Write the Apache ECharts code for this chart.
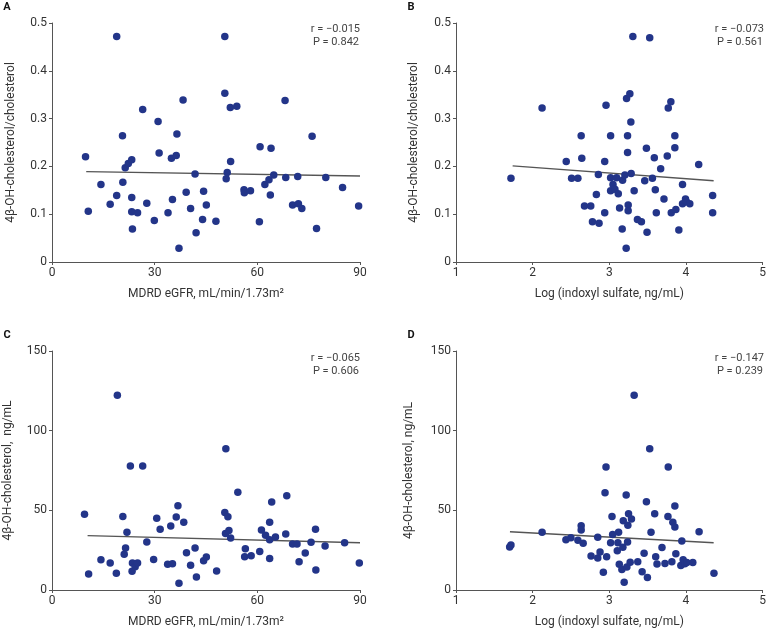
<!DOCTYPE html>
<html>
<head>
<meta charset="utf-8">
<script src="https://cdn.jsdelivr.net/npm/echarts@6/dist/echarts.min.js"></script>
<style>html,body{margin:0;padding:0;background:#fff;}#c{width:769px;height:635px;}</style>
</head>
<body>
<div id="c"></div>
<script>
// Panel A: eGFR vs 4β-OH-cholesterol/cholesterol
const aX = [9.8,10.6,14.3,17.0,18.9,18.9,20.6,20.7,21.4,22.3,23.3,23.3,23.3,23.5,25.0,26.5,27.7,29.9,31.0,31.3,33.9,34.9,35.2,36.3,36.5,37.1,38.3,39.2,40.5,41.8,42.1,44.0,44.3,45.1,47.9,50.5,50.5,50.9,51.2,52.1,52.2,54.0,56.1,56.2,58.0,60.6,60.8,62.2,63.4,63.8,64.0,64.8,68.1,68.3,70.3,71.8,72.0,73.0,76.0,77.3,80.0,84.9,89.6];
const aY = [0.220,0.106,0.162,0.121,0.472,0.139,0.264,0.167,0.197,0.206,0.214,0.135,0.105,0.069,0.103,0.319,0.123,0.087,0.294,0.228,0.103,0.217,0.131,0.223,0.268,0.029,0.339,0.146,0.112,0.184,0.061,0.089,0.148,0.119,0.085,0.472,0.353,0.174,0.187,0.323,0.210,0.326,0.151,0.145,0.149,0.084,0.241,0.162,0.172,0.140,0.238,0.182,0.338,0.177,0.119,0.179,0.122,0.112,0.263,0.070,0.177,0.156,0.117];
const aFit = [[10,0.189],[90,0.180]];

// Panel B: log indoxyl sulfate vs 4β-OH-cholesterol/cholesterol
const bX = [1.717,2.123,2.438,2.508,2.590,2.633,2.641,2.676,2.758,2.780,2.831,2.857,2.866,2.940,2.940,2.957,3.017,3.017,3.017,3.048,3.073,3.095,3.117,3.134,3.173,3.168,3.203,3.220,3.225,3.238,3.238,3.246,3.246,3.268,3.281,3.285,3.307,3.324,3.367,3.419,3.462,3.484,3.492,3.527,3.562,3.587,3.600,3.613,3.670,3.713,3.756,3.769,3.803,3.808,3.855,3.855,3.868,3.907,3.955,3.955,3.994,4.006,4.050,4.166,4.348,4.348];
const bY = [0.175,0.322,0.210,0.175,0.175,0.264,0.217,0.117,0.117,0.084,0.141,0.183,0.081,0.210,0.103,0.328,0.264,0.176,0.149,0.162,0.152,0.176,0.143,0.113,0.171,0.069,0.182,0.029,0.342,0.264,0.229,0.119,0.107,0.352,0.293,0.185,0.472,0.149,0.089,0.084,0.170,0.238,0.062,0.469,0.175,0.218,0.151,0.103,0.195,0.132,0.222,0.322,0.335,0.103,0.264,0.239,0.110,0.067,0.162,0.122,0.132,0.126,0.122,0.204,0.139,0.103];
const bFit = [[1.739,0.201],[4.361,0.170]];

// Panel C: eGFR vs 4β-OH-cholesterol
const cX = [9.5,10.7,14.3,17.0,18.8,19.1,20.7,21.1,21.5,21.9,22.9,23.4,23.5,24.3,25.0,26.5,27.7,29.7,30.6,31.6,33.8,34.7,35.2,36.3,36.8,37.1,38.5,39.3,40.5,41.8,42.2,44.3,45.1,48.1,50.5,50.8,50.7,51.4,51.7,52.2,54.3,56.5,56.3,58.2,60.7,61.2,62.4,63.6,63.6,63.6,64.2,65.3,68.3,68.6,70.3,71.6,72.2,74.0,75.7,77.0,77.1,79.8,85.5,89.8];
const cY = [47.5,10.0,19.0,16.9,10.5,122.2,46.2,22.4,26.4,36.2,77.8,11.7,16.9,14.6,16.9,77.8,30.1,19.2,45.0,38.1,16.1,40.2,16.5,45.8,52.9,4.2,42.5,23.4,15.5,26.4,8.2,18.4,20.7,11.9,48.7,88.7,35.4,46.0,37.4,32.6,61.3,25.9,20.9,21.5,24.1,37.7,34.3,42.5,31.6,19.7,55.2,33.3,35.1,59.2,28.9,28.9,17.8,23.2,29.9,38.1,12.6,27.6,29.7,16.9];
const cFit = [[10.4,34.1],[90,29.7]];

// Panel D: log indoxyl sulfate vs 4β-OH-cholesterol
const dX = [1.700,1.717,2.123,2.434,2.499,2.590,2.633,2.633,2.659,2.762,2.849,2.849,2.879,2.922,2.944,2.957,2.965,3.017,3.035,3.043,3.104,3.112,3.121,3.130,3.164,3.177,3.182,3.194,3.220,3.229,3.238,3.242,3.251,3.272,3.289,3.324,3.371,3.428,3.454,3.484,3.497,3.527,3.544,3.592,3.605,3.622,3.687,3.726,3.765,3.769,3.816,3.829,3.855,3.855,3.868,3.933,3.946,3.963,3.985,4.011,4.089,4.171,4.365];
const dY = [27.0,28.2,36.2,31.6,32.8,31.2,40.4,37.7,29.3,21.3,33.1,20.1,23.8,11.1,61.1,77.2,20.9,29.7,46.2,34.9,24.7,29.7,36.2,16.1,12.8,26.8,43.5,4.8,59.6,14.4,30.1,40.6,47.9,17.4,44.6,122.2,17.8,11.5,23.0,55.4,7.9,88.7,36.2,47.9,20.9,16.3,26.6,16.7,46.2,77.2,17.8,42.5,52.7,39.5,22.8,15.3,30.8,19.0,16.5,17.2,17.2,36.6,10.5];
const dFit = [[1.704,36.6],[4.361,29.7]];

const panelLabels = ['A','B','C','D'];
const rTexts = ['r = \u22120.015','r = \u22120.073','r = \u22120.065','r = \u22120.147'];
const pTexts = ['P = 0.842','P = 0.561','P = 0.606','P = 0.239'];
const xTitles = ['MDRD eGFR, mL/min/1.73m\u00B2','Log (indoxyl sulfate, ng/mL)','MDRD eGFR, mL/min/1.73m\u00B2','Log (indoxyl sulfate, ng/mL)'];
const yTitles = ['4\u03B2-OH-cholesterol/cholesterol','4\u03B2-OH-cholesterol/cholesterol','4\u03B2-OH-cholesterol,  ng/mL','4\u03B2-OH-cholesterol, ng/mL'];

const FONT = 'Roboto, "Noto Sans", sans-serif';
const DOT = '#233589';
const AX = '#555';

const grids = [
  {left:52, top:23, width:308, height:239},
  {left:456, top:23, width:308, height:239},
  {left:52, top:351, width:308, height:239},
  {left:456, top:351, width:308, height:239}
];
const xCfg = [
  {min:0,max:90,interval:30},{min:1,max:5,interval:1},
  {min:0,max:90,interval:30},{min:1,max:5,interval:1}
];
const yCfg = [
  {min:0,max:0.5,interval:0.1},{min:0,max:0.5,interval:0.1},
  {min:0,max:150,interval:50},{min:0,max:150,interval:50}
];
const yGaps = [35,36,38,41];

const axisCommon = {
  axisLine:{show:true,lineStyle:{color:AX,width:1}},
  axisTick:{show:true,inside:false,length:3,lineStyle:{color:AX}},
  splitLine:{show:false},
  axisLabel:{color:'#333',fontSize:12,fontFamily:FONT,margin:5},
  nameTextStyle:{color:'#333',fontSize:12,fontFamily:FONT}
};

const xAxis = xCfg.map((c,i)=>Object.assign({}, axisCommon, {
  type:'value', gridIndex:i, min:c.min, max:c.max, interval:c.interval,
  name:xTitles[i], nameLocation:'middle', nameGap:26
}));
const yAxis = yCfg.map((c,i)=>Object.assign({}, axisCommon, {
  type:'value', gridIndex:i, min:c.min, max:c.max, interval:c.interval,
  name:yTitles[i], nameLocation:'middle', nameGap:yGaps[i],
  axisLabel:Object.assign({}, axisCommon.axisLabel, {formatter:v=> (c.max<1 ? (v===0?'0':v.toFixed(1)) : String(v))})
}));

const xs = [aX,bX,cX,dX], ys = [aY,bY,cY,dY], fits = [aFit,bFit,cFit,dFit];
const series = [];
for (let i=0;i<4;i++){
  series.push({
    type:'scatter', xAxisIndex:i, yAxisIndex:i, symbolSize:7.5,
    itemStyle:{color:DOT, opacity:1}, data: xs[i].map((x,k)=>[x, ys[i][k]]), z:3
  });
  series.push({
    type:'line', xAxisIndex:i, yAxisIndex:i, data:fits[i], symbol:'none',
    lineStyle:{color:'#555',width:1.4}, z:2, silent:true
  });
}

const labelPos = [[7,7],[411,7],[7,335],[411,335]];
const statPos = [[360,29],[764,29],[360,358],[764,358]];
const graphic = [];
for (let i=0;i<4;i++){
  graphic.push({type:'text', x:labelPos[i][0], y:labelPos[i][1],
    style:{text:panelLabels[i], font:'bold 11px '+FONT, fill:'#111', align:'center', verticalAlign:'middle'}});
  graphic.push({type:'text', x:statPos[i][0], y:statPos[i][1],
    style:{text:rTexts[i], font:'11px '+FONT, fill:'#444', align:'right', verticalAlign:'middle'}});
  graphic.push({type:'text', x:statPos[i][0]-1, y:statPos[i][1]+13,
    style:{text:pTexts[i], font:'11px '+FONT, fill:'#444', align:'right', verticalAlign:'middle'}});
}

const chart = echarts.init(document.getElementById('c'), null, {renderer:'canvas'});
chart.setOption({
  animation:false,
  backgroundColor:'#fff',
  grid:grids,
  xAxis:xAxis, yAxis:yAxis, series:series, graphic:graphic
});
</script>
</body>
</html>
